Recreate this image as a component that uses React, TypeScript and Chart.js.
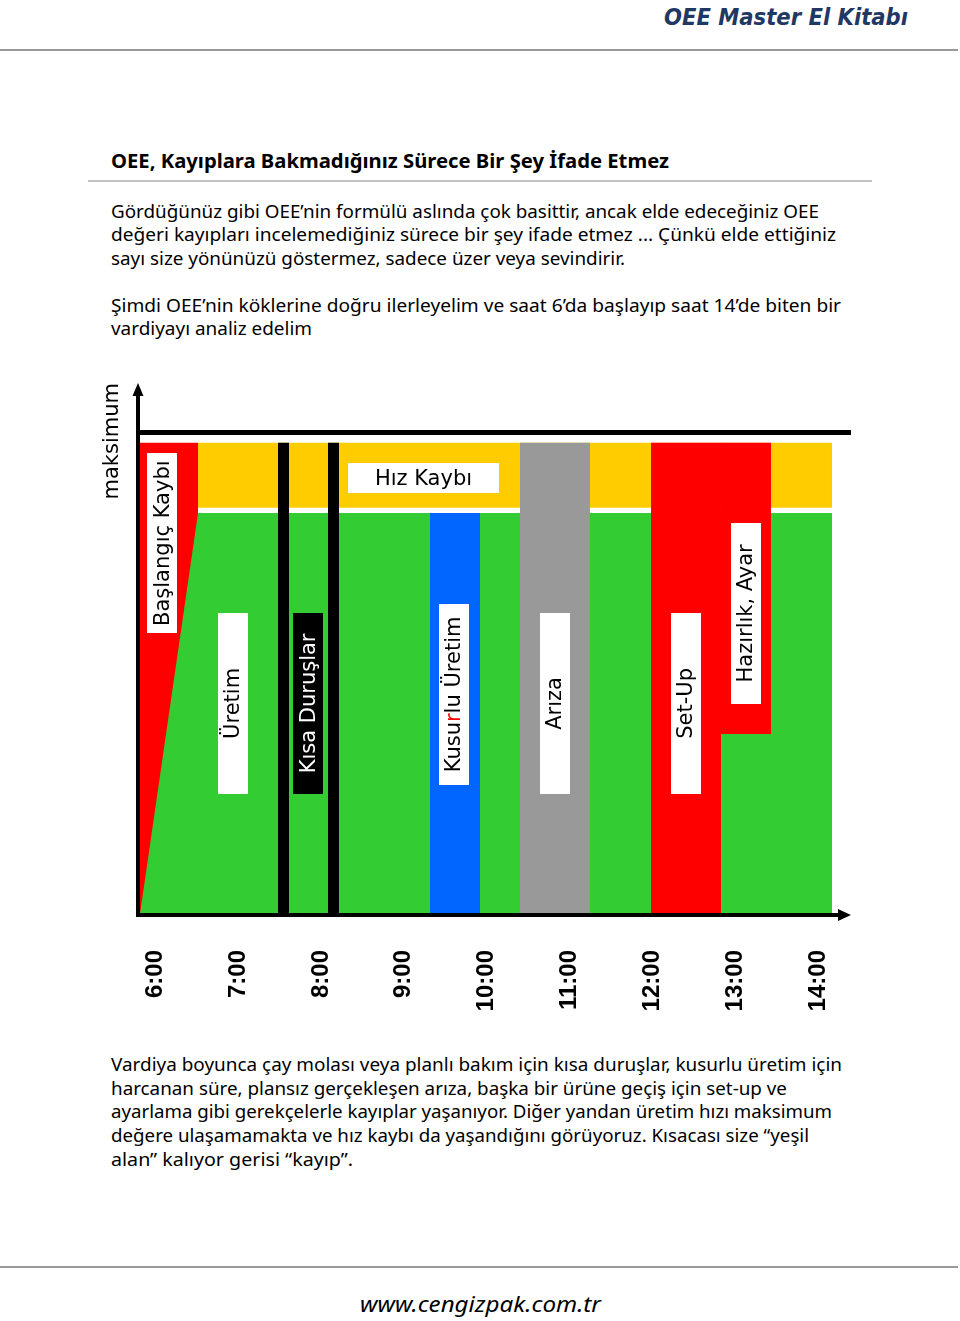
import React, { useEffect, useRef } from "react";
import { Chart, registerables } from "chart.js";

Chart.register(...registerables);

// ---------- data ----------
const HOURS = [6, 7, 8, 9, 10, 11, 12, 13, 14];
const TIME_LABELS = ["6:00", "7:00", "8:00", "9:00", "10:00", "11:00", "12:00", "13:00", "14:00"];

// loss segments (x in hours, y in % of maximum)
const SEGMENT_NAMES = ["Başlangıç Kaybı", "Kısa Duruş 1", "Kısa Duruş 2", "Kusurlu Üretim", "Arıza", "Set-Up", "Hazırlık, Ayar"];
const SEGMENT_START = [6.0, 7.595, 8.173, 9.353, 10.393, 11.908, 12.717];
const SEGMENT_END = [6.671, 7.723, 8.301, 9.931, 11.202, 12.717, 13.295];
const SEGMENT_BOTTOM = [0, 0, 0, 0, 0, 0, 38.2];
const SEGMENT_TOP = [100, 100, 100, 85.1, 100, 100, 100];

// production (green area): ramps up from shift start
const PRODUCTION_X = [6.0, 6.671, 14.0];
const PRODUCTION_Y = [0, 85.1, 85.1];

// speed loss band
const SPEED_LOSS_X = [6.671, 14.0];
const SPEED_LOSS_Y = [86.2, 100];

// theoretical maximum line
const MAX_LEVEL = 102.2;

// labels inside the chart
const LABEL_TEXTS = ["Başlangıç Kaybı", "Üretim", "Kısa Duruşlar", "Kusurlu Üretim", "Arıza", "Set-Up", "Hazırlık, Ayar"];
const LABEL_X = [6.26, 7.075, 7.948, 9.63, 10.798, 12.312, 13.006];
const LABEL_TOP = [97.8, 63.9, 63.9, 65.8, 63.9, 63.9, 83.0];
const LABEL_BOTTOM = [59.6, 25.5, 25.5, 27.4, 25.5, 25.5, 44.6];
const SPEED_LABEL = "Hız Kaybı";
const SPEED_LABEL_X = [8.405, 10.15];
const SPEED_LABEL_Y = [89.3, 95.7];

// ---------- styles ----------
const C = {
  red: "#ff0000",
  green: "#33cc33",
  yellow: "#ffcc00",
  blue: "#0066ff",
  gray: "#999999",
  black: "#000000",
};
const SEGMENT_COLORS = [C.red, C.black, C.black, C.blue, C.gray, C.red, C.red];
const DARK_LABEL = "Kısa Duruşlar";
const HIGHLIGHT = { label: "Kusurlu Üretim", index: 4, color: "#ff0000" };
const LABEL_FONT = '21px "DejaVu Sans"';

function rectPoints(x0: number, x1: number, y0: number, y1: number) {
  return [
    { x: x0, y: y0 },
    { x: x0, y: y1 },
    { x: x1, y: y1 },
    { x: x1, y: y0 },
  ];
}

const overlayPlugin = {
  id: "overlay",
  afterDatasetsDraw(chart: any) {
    const { ctx, chartArea } = chart;
    const xs = chart.scales.x;
    const ys = chart.scales.y;
    ctx.save();
    ctx.font = LABEL_FONT;
    // vertical labels
    LABEL_TEXTS.forEach((t, i) => {
      const cx = xs.getPixelForValue(LABEL_X[i]);
      const top = ys.getPixelForValue(LABEL_TOP[i]);
      const bot = ys.getPixelForValue(LABEL_BOTTOM[i]);
      const dark = t === DARK_LABEL;
      ctx.fillStyle = dark ? "#000" : "#fff";
      ctx.fillRect(Math.round(cx - 15), Math.round(top), 30, Math.round(bot - top));
      const cy = (top + bot) / 2;
      ctx.save();
      ctx.translate(cx + 1, cy);
      ctx.rotate(-Math.PI / 2);
      ctx.textBaseline = "middle";
      ctx.textAlign = "left";
      const total = ctx.measureText(t).width;
      let pos = -total / 2;
      const chars = t === HIGHLIGHT.label
        ? [t.slice(0, HIGHLIGHT.index), t.slice(HIGHLIGHT.index, HIGHLIGHT.index + 1), t.slice(HIGHLIGHT.index + 1)]
        : [t];
      chars.forEach((part, k) => {
        ctx.fillStyle = dark ? "#fff" : (chars.length > 1 && k === 1 ? HIGHLIGHT.color : "#000");
        ctx.fillText(part, pos, 0);
        pos += ctx.measureText(part).width;
      });
      ctx.restore();
    });
    // horizontal speed-loss label
    {
      const x0 = xs.getPixelForValue(SPEED_LABEL_X[0]);
      const x1 = xs.getPixelForValue(SPEED_LABEL_X[1]);
      const y0 = ys.getPixelForValue(SPEED_LABEL_Y[1]);
      const y1 = ys.getPixelForValue(SPEED_LABEL_Y[0]);
      ctx.fillStyle = "#fff";
      ctx.fillRect(Math.round(x0), Math.round(y0), Math.round(x1 - x0), Math.round(y1 - y0));
      ctx.fillStyle = "#000";
      ctx.textAlign = "center";
      ctx.textBaseline = "middle";
      ctx.fillText(SPEED_LABEL, (x0 + x1) / 2, (y0 + y1) / 2 + 1);
    }
    // axes with arrows
    const left = chartArea.left;
    const bottom = chartArea.bottom + 1;
    ctx.strokeStyle = "#000";
    ctx.fillStyle = "#000";
    ctx.lineWidth = 4;
    ctx.beginPath();
    ctx.moveTo(left, bottom + 2);
    ctx.lineTo(left, chartArea.top + 10);
    ctx.stroke();
    ctx.beginPath();
    ctx.moveTo(left, chartArea.top);
    ctx.lineTo(left - 5.5, chartArea.top + 13);
    ctx.lineTo(left + 5.5, chartArea.top + 13);
    ctx.closePath();
    ctx.fill();
    ctx.beginPath();
    ctx.moveTo(left - 2, bottom);
    ctx.lineTo(chartArea.right - 10, bottom);
    ctx.stroke();
    ctx.beginPath();
    ctx.moveTo(chartArea.right, bottom);
    ctx.lineTo(chartArea.right - 13, bottom - 6);
    ctx.lineTo(chartArea.right - 13, bottom + 6);
    ctx.closePath();
    ctx.fill();
    ctx.restore();
  },
};

function ShiftChart() {
  const ref = useRef<HTMLCanvasElement>(null);
  useEffect(() => {
    const layers: any[] = [];
    const base = {
      type: "line",
      xAxisID: "x",
      yAxisID: "y",
      pointRadius: 0,
      borderWidth: 0,
      borderColor: "rgba(0,0,0,0)",
      tension: 0,
    };
    // bottom-most first
    layers.push({
      ...base,
      label: SEGMENT_NAMES[0],
      data: rectPoints(SEGMENT_START[0], SEGMENT_END[0], SEGMENT_BOTTOM[0], SEGMENT_TOP[0]),
      backgroundColor: SEGMENT_COLORS[0],
      fill: { value: SEGMENT_BOTTOM[0] },
    });
    layers.push({
      ...base,
      label: "Üretim",
      data: PRODUCTION_X.map((x, i) => ({ x, y: PRODUCTION_Y[i] })),
      backgroundColor: C.green,
      fill: { value: 0 },
    });
    layers.push({
      ...base,
      label: "Hız Kaybı",
      data: rectPoints(SPEED_LOSS_X[0], SPEED_LOSS_X[1], SPEED_LOSS_Y[0], SPEED_LOSS_Y[1]),
      backgroundColor: C.yellow,
      fill: { value: SPEED_LOSS_Y[0] },
    });
    for (let i = 1; i < SEGMENT_NAMES.length; i++) {
      layers.push({
        ...base,
        label: SEGMENT_NAMES[i],
        data: rectPoints(SEGMENT_START[i], SEGMENT_END[i], SEGMENT_BOTTOM[i], SEGMENT_TOP[i]),
        backgroundColor: SEGMENT_COLORS[i],
        fill: { value: SEGMENT_BOTTOM[i] },
      });
    }
    layers.push({
      ...base,
      label: "maksimum",
      data: [
        { x: 5.977, y: MAX_LEVEL },
        { x: 14.22, y: MAX_LEVEL },
      ],
      borderWidth: 5,
      borderColor: "#000",
      fill: false,
    });
    const n = layers.length;
    layers.forEach((d, i) => (d.order = n - 1 - i));

    const chart = new Chart(ref.current as HTMLCanvasElement, {
      type: "line",
      data: { datasets: layers },
      plugins: [overlayPlugin],
      options: {
        animation: false,
        responsive: false,
        events: [],
        layout: { padding: { top: 23, right: 49, bottom: 0, left: 0 } },
        plugins: { legend: { display: false }, tooltip: { enabled: false } },
        scales: {
          x: { type: "linear", axis: "x", min: 5.977, max: 14.22, display: false },
          x2: {
            type: "linear",
            axis: "x",
            position: "bottom",
            min: 5.789,
            max: 14.4,
            grid: { display: false, drawTicks: false },
            border: { display: false },
            ticks: {
              autoSkip: false,
              minRotation: 90,
              maxRotation: 90,
              padding: 36,
              color: "#000",
              font: { family: '"Liberation Sans", Arial', size: 24, weight: "bold" },
              callback: (_v: any, i: number) => TIME_LABELS[i],
            },
            afterBuildTicks: (s: any) => {
              s.ticks = HOURS.map((h) => ({ value: h }));
            },
            afterFit: (s: any) => {
              s.height = 110;
            },
          },
          y: {
            type: "linear",
            min: 0,
            max: 112.7,
            grid: { display: false },
            border: { display: false },
            ticks: { display: false },
            title: {
              display: true,
              text: "maksimum",
              align: "end",
              color: "#000",
              font: { family: '"DejaVu Sans"', size: 21 },
              padding: { top: 20, bottom: 0 },
            },
            afterFit: (s: any) => {
              s.width = 58;
            },
          },
        },
      } as any,
    } as any);
    return () => chart.destroy();
  }, []);
  return (
    <canvas
      ref={ref}
      width={820}
      height={664}
      style={{ position: "absolute", left: 80, top: 360, width: 820, height: 664 }}
    />
  );
}

const BODY_FONT = '"Noto Sans", "DejaVu Sans", sans-serif';

type Line = { t: string; x: number; y: number; w: number };
const PARA1: Line[] = [
  { t: "Gördüğünüz gibi OEE’nin formülü aslında çok basittir, ancak elde edeceğiniz OEE", x: 111, y: 218, w: 708 },
  { t: "değeri kayıpları incelemediğiniz sürece bir şey ifade etmez ... Çünkü elde ettiğiniz", x: 111, y: 241, w: 725 },
  { t: "sayı size yönünüzü göstermez, sadece üzer veya sevindirir.", x: 111, y: 265, w: 514 },
  { t: "Şimdi OEE’nin köklerine doğru ilerleyelim ve saat 6’da başlayıp saat 14’de biten bir", x: 111, y: 312, w: 730 },
  { t: "vardiyayı analiz edelim", x: 111, y: 335, w: 201 },
];
const PARA2: Line[] = [
  { t: "Vardiya boyunca çay molası veya planlı bakım için kısa duruşlar, kusurlu üretim için", x: 111, y: 1071, w: 731 },
  { t: "harcanan süre, plansız gerçekleşen arıza, başka bir ürüne geçiş için set-up ve", x: 111, y: 1095, w: 676 },
  { t: "ayarlama gibi gerekçelerle kayıplar yaşanıyor. Diğer yandan üretim hızı maksimum", x: 111, y: 1118, w: 721 },
  { t: "değere ulaşamamakta ve hız kaybı da yaşandığını görüyoruz. Kısacası size “yeşil", x: 111, y: 1142, w: 698 },
  { t: "alan” kalıyor gerisi “kayıp”.", x: 111, y: 1166, w: 242 },
];

export default function App() {
  return (
    <div style={{ position: "absolute", left: 0, top: 0, width: 960, height: 1321, background: "#fff", overflow: "hidden" }}>
      <svg width={960} height={1321} style={{ position: "absolute", left: 0, top: 0 }}>
        <text
          x={664}
          y={25}
          textLength={244}
          lengthAdjust="spacingAndGlyphs"
          fontFamily='"DejaVu Sans", sans-serif'
          fontWeight="bold"
          fontStyle="italic"
          fontSize={23}
          fill="#1f3864"
        >
          OEE Master El Kitabı
        </text>
        <line x1={0} x2={958} y1={50} y2={50} stroke="#999" strokeWidth={2} />
        <text
          x={111}
          y={168}
          textLength={558}
          lengthAdjust="spacingAndGlyphs"
          fontFamily={BODY_FONT}
          fontWeight="bold"
          fontSize={19}
          fill="#000"
        >
          OEE, Kayıplara Bakmadığınız Sürece Bir Şey İfade Etmez
        </text>
        <line x1={88} x2={872} y1={181} y2={181} stroke="#c4c4c4" strokeWidth={2} />
        {PARA1.concat(PARA2).map((l, i) => (
          <text
            key={i}
            x={l.x}
            y={l.y}
            textLength={l.w}
            lengthAdjust="spacingAndGlyphs"
            fontFamily={BODY_FONT}
            fontSize={18.5}
            fill="#000"
          >
            {l.t}
          </text>
        ))}
        <line x1={0} x2={958} y1={1267} y2={1267} stroke="#999" strokeWidth={2} />
        <text
          x={360}
          y={1312}
          textLength={241}
          lengthAdjust="spacingAndGlyphs"
          fontFamily='"Noto Sans", sans-serif'
          fontStyle="italic"
          fontSize={22}
          fill="#000"
        >
          www.cengizpak.com.tr
        </text>
      </svg>
      <ShiftChart />
    </div>
  );
}
